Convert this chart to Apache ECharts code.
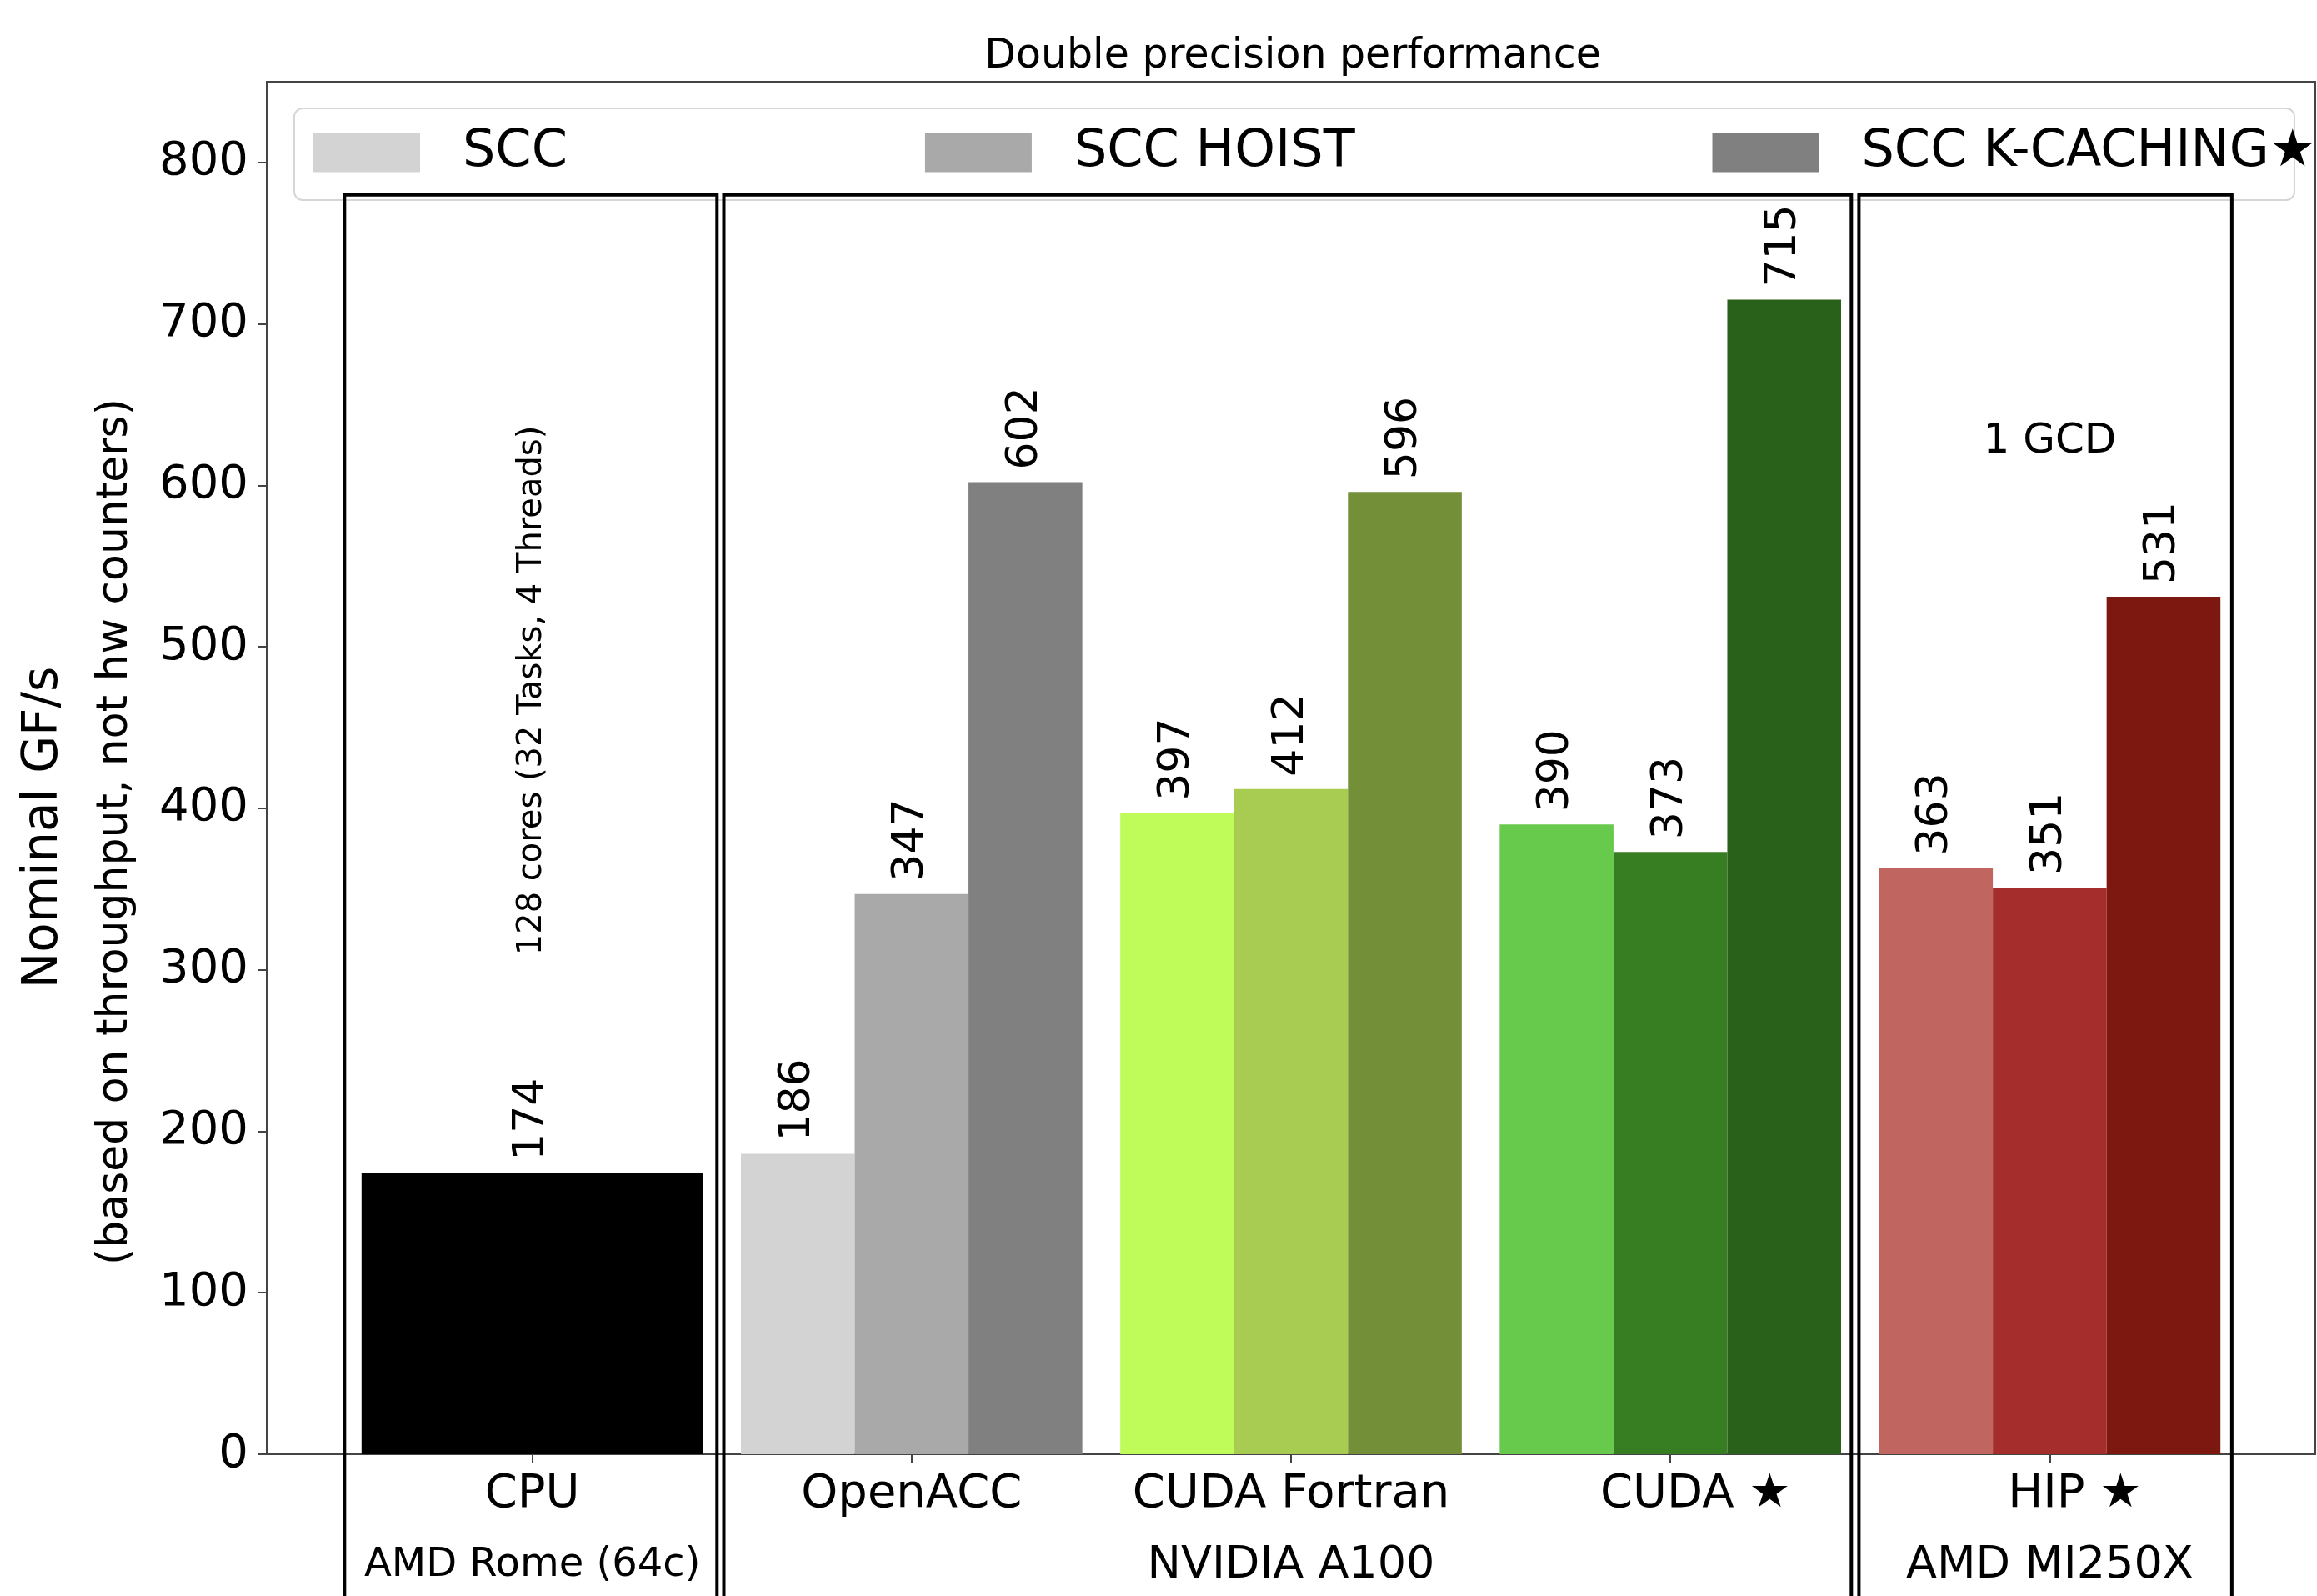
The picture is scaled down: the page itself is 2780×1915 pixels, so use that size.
<!DOCTYPE html>
<html>
<head>
<meta charset="utf-8">
<title>Double precision performance</title>
<script src="https://cdn.jsdelivr.net/npm/echarts@6/dist/echarts.min.js"></script>
<style>
  html, body { margin: 0; padding: 0; background: #fff; }
  #chart { width: 2780px; height: 1915px; }
</style>
</head>
<body>
<div id="chart"></div>
<script>
// categories (tick labels) and the platform row under them
const groups = ['CPU', 'OpenACC', 'CUDA Fortran', 'CUDA ★', 'HIP ★']
const platforms = ['AMD Rome (64c)', '', 'NVIDIA A100', '', 'AMD MI250X']
const yTicks = [0, 100, 200, 300, 400, 500, 600, 700, 800]

// values, GF/s (GPU arrays follow groups 1..4)
const cpuValues = [174]
const sccValues = [186, 397, 390, 363]
const hoistValues = [347, 412, 373, 351]
const kcachingValues = [602, 596, 715, 531]

// colours per bar
const cpuColors = ['#000000']
const sccColors = ['#d3d3d3', '#bffc59', '#68ca4c', '#c06560']
const hoistColors = ['#a9a9a9', '#a8cc52', '#377e23', '#a52e2d']
const kcachingColors = ['#808080', '#738f37', '#29601a', '#7d1810']

// black frames around the platform groups, in axis units
const groupBoxes = [[-0.495, 0.487], [0.505, 3.477], [3.497, 4.48]]
const boxTop = 780
const boxBottom = -120

const FONT = 'DejaVu Sans'
const chart = echarts.init(document.getElementById('chart'))

function barSeries(name, values, colors, firstIndex, offset, width) {
  return {
    name: name,
    type: 'custom',
    itemStyle: { color: colors[0] },
    data: values.map((v, i) => [firstIndex + i + offset, v]),
    renderItem: (params, api) => {
      const x = api.value(0)
      const v = api.value(1)
      const p0 = api.coord([x - width / 2, v])
      const p1 = api.coord([x + width / 2, 0])
      return {
        type: 'group',
        children: [
          {
            type: 'rect',
            shape: { x: p0[0], y: p0[1], width: p1[0] - p0[0], height: p1[1] - p0[1] },
            style: { fill: colors[params.dataIndex] }
          },
          {
            type: 'text',
            x: (p0[0] + p1[0]) / 2,
            y: p0[1] - 15,
            rotation: Math.PI / 2,
            style: {
              text: String(v), fill: '#000', fontSize: 52, fontFamily: FONT,
              align: 'left', verticalAlign: 'middle'
            }
          }
        ]
      }
    }
  }
}

const notes = [
  { x: 0, y: 473, text: '128 cores (32 Tasks, 4 Threads)', size: 40, rotate: true },
  { x: 4, y: 627, text: '1 GCD', size: 50, rotate: false }
]

const option = {
  animation: false,
  backgroundColor: '#fff',
  grid: {
    left: 320, right: 2, top: 98, bottom: 170,
    outerBoundsMode: 'none',
    containLabel: false,
    show: true, borderColor: '#444', borderWidth: 2
  },
  legend: {
    data: ['SCC', 'SCC HOIST', 'SCC K-CACHING★'],
    left: 376,
    top: 152,
    padding: 0,
    itemGap: 429,
    itemWidth: 128,
    itemHeight: 47,
    icon: 'rect',
    selectedMode: false,
    textStyle: { fontSize: 62, fontFamily: FONT, color: '#000', padding: [0, 0, 0, 46] }
  },
  xAxis: {
    type: 'value',
    min: -0.7,
    max: 4.7,
    splitLine: { show: false },
    axisLine: { show: true, onZero: false, lineStyle: { color: '#444', width: 2 } },
    axisTick: {
      show: true, length: 10, customValues: [0, 1, 2, 3, 4],
      lineStyle: { color: '#444', width: 2 }
    },
    axisLabel: {
      customValues: [0, 1, 2, 3, 4],
      margin: 5,
      fontSize: 56,
      lineHeight: 86,
      fontFamily: FONT,
      color: '#000',
      formatter: (v) => {
        const i = Math.round(v)
        const name = groups[i]
        let line = name.indexOf('★') >= 0 ? '{pad|\u00a0}{a|' + name + '}' : '{a|' + name + '}'
        if (platforms[i]) line += '\n{' + (i === 0 ? 'b' : 'c') + '|' + platforms[i] + '}'
        return line
      },
      rich: {
        a: { fontSize: 56, lineHeight: 86, fontFamily: FONT, color: '#000' },
        b: { fontSize: 48, lineHeight: 86, fontFamily: FONT, color: '#000' },
        c: { fontSize: 54, lineHeight: 86, fontFamily: FONT, color: '#000' },
        pad: { width: 60, fontSize: 56, lineHeight: 86 }
      }
    }
  },
  yAxis: {
    type: 'value',
    min: 0,
    max: 850,
    splitLine: { show: false },
    axisLine: { show: true, onZero: false, lineStyle: { color: '#444', width: 2 } },
    axisTick: { show: true, length: 10, customValues: yTicks, lineStyle: { color: '#444', width: 2 } },
    axisLabel: { customValues: yTicks, margin: 22, fontSize: 56, fontFamily: FONT, color: '#000' }
  },
  graphic: [
    {
      type: 'text', x: 1551, y: 68, z: 10,
      style: { text: 'Double precision performance', fontSize: 49, fontFamily: FONT, fill: '#000', align: 'center', verticalAlign: 'middle' }
    },
    {
      type: 'text', x: 53, y: 993, rotation: Math.PI / 2,
      style: { text: 'Nominal GF/s', fontSize: 58, fontFamily: FONT, fill: '#000', align: 'center', verticalAlign: 'middle' }
    },
    {
      type: 'text', x: 138, y: 998, rotation: Math.PI / 2,
      style: { text: '(based on throughput, not hw counters)', fontSize: 52, fontFamily: FONT, fill: '#000', align: 'center', verticalAlign: 'middle' }
    },
    {
      type: 'rect', z: -1,
      shape: { x: 353, y: 130, width: 2400, height: 110, r: 10 },
      style: { fill: 'rgba(255,255,255,0.8)', stroke: '#d6d6d6', lineWidth: 2 }
    }
  ],
  series: [
    barSeries('CPU', cpuValues, cpuColors, 0, 0, 0.9),
    barSeries('SCC', sccValues, sccColors, 1, -0.3, 0.3),
    barSeries('SCC HOIST', hoistValues, hoistColors, 1, 0, 0.3),
    barSeries('SCC K-CACHING★', kcachingValues, kcachingColors, 1, 0.3, 0.3),
    {
      name: 'boxes',
      type: 'custom',
      clip: false,
      z: 5,
      data: groupBoxes,
      renderItem: (params, api) => {
        const b = groupBoxes[params.dataIndex]
        const p0 = api.coord([b[0], boxTop])
        const p1 = api.coord([b[1], boxBottom])
        return {
          type: 'rect',
          shape: { x: p0[0], y: p0[1], width: p1[0] - p0[0], height: p1[1] - p0[1] },
          style: { fill: 'none', stroke: '#000', lineWidth: 4 }
        }
      }
    },
    {
      name: 'notes',
      type: 'custom',
      clip: false,
      data: notes.map(n => [n.x, n.y]),
      renderItem: (params, api) => {
        const n = notes[params.dataIndex]
        const p = api.coord([n.x, n.y])
        return {
          type: 'text',
          x: p[0], y: p[1],
          rotation: n.rotate ? Math.PI / 2 : 0,
          style: { text: n.text, fontSize: n.size, fontFamily: FONT, fill: '#000', align: 'center', verticalAlign: 'middle' }
        }
      }
    }
  ]
}

chart.setOption(option)
</script>
</body>
</html>
